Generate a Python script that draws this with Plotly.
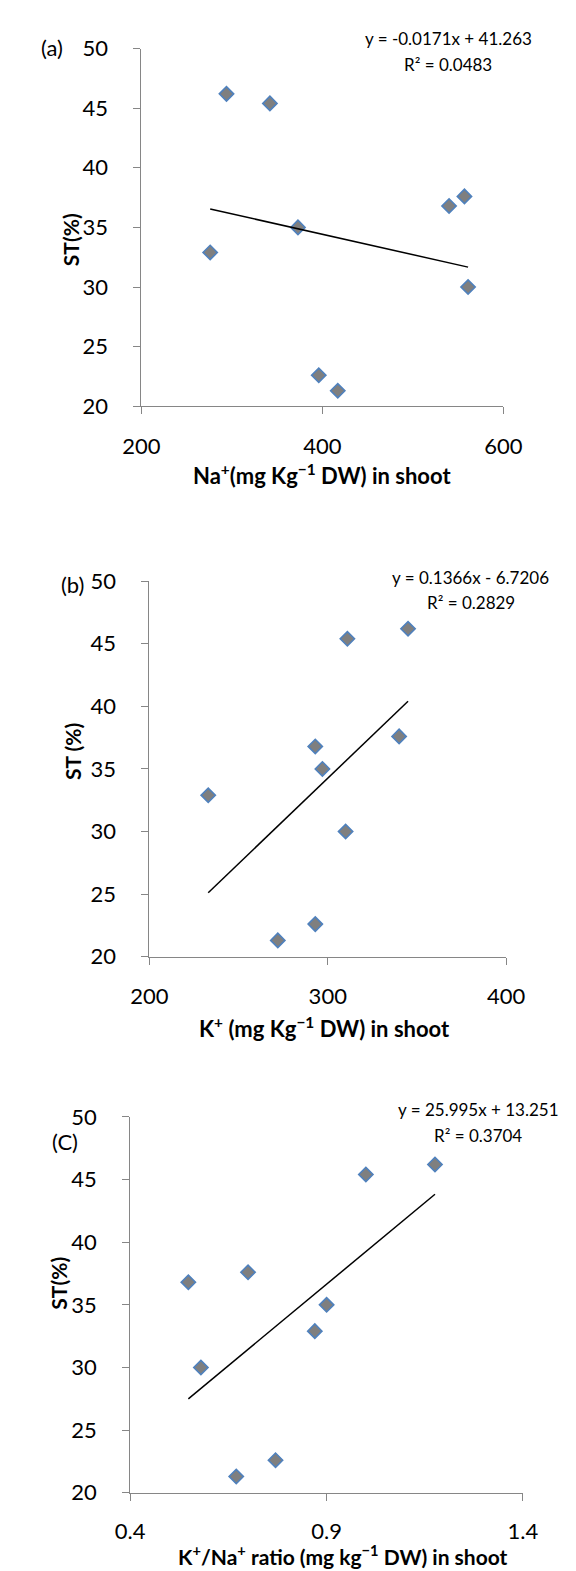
import plotly.graph_objects as go

# ---------------- data ----------------
st_values = [46.2, 45.4, 37.6, 36.8, 35.0, 32.9, 30.0, 22.6, 21.3]
na_shoot = [294, 342, 557, 540, 373, 276, 561, 396, 417]
k_shoot = [345, 311, 340, 293, 297, 233, 310, 293, 272]
k_na_ratio = [1.176, 1.00, 0.70, 0.548, 0.90, 0.87, 0.58, 0.77, 0.67]

trend_slope = [-0.0171, 0.1366, 25.995]
trend_intercept = [41.263, -6.7206, 13.251]
eq_text = ["y = -0.0171x + 41.263", "y = 0.1366x - 6.7206", "y = 25.995x + 13.251"]
r2_text = ["R² = 0.0483", "R² = 0.2829", "R² = 0.3704"]

x_ranges = [[200, 600], [200, 400], [0.4, 1.4]]
x_tickvals = [[200, 400, 600], [200, 300, 400], [0.4, 0.9, 1.4]]
x_ticktext = [["200", "400", "600"], ["200", "300", "400"], ["0.4", "0.9", "1.4"]]
y_range = [20, 50]
y_tickvals = [20, 25, 30, 35, 40, 45, 50]

x_titles = ["Na<sup>+</sup>(mg Kg<sup>−1</sup> DW) in shoot",
            "K<sup>+</sup> (mg Kg<sup>−1</sup> DW) in shoot",
            "K<sup>+</sup>/Na<sup>+</sup> ratio (mg kg<sup>−1</sup> DW) in shoot"]
y_titles = ["ST(%)", "ST (%)", "ST(%)"]
panel_labels = ["(a)", "(b)", "(C)"]

# ---------------- layout geometry (pixels) ----------------
W, H = 576, 1571
FONT = "Lato"
plot_px = [  # x0, x1, ytop, ybottom
    (122.5, 510, 27, 391),
    (131, 513, 569, 951),
    (110.5, 531, 1114, 1496.5),
]
xtick_standoff = [13, 13, 12]
eq_pos = [(451, 17, 43), (475, 565, 591), (483, 1107, 1133)]
xtitle_pos = [(316, 460, 22), (318, 1023, 22), (338, 1560, 21)]
ytitle_pos = [(46, 221), (48, 742), (34, 1283)]
label_pos = [(27, 26), (49, 572), (41, 1139)]

xs_all = [na_shoot, k_shoot, k_na_ratio]

fig = go.Figure()
annotations = []

def px2paper(x, y):
    return x / W, 1 - y / H

for i in range(3):
    xa = "x" if i == 0 else f"x{i+1}"
    ya = "y" if i == 0 else f"y{i+1}"
    xs = xs_all[i]
    fig.add_trace(go.Scatter(
        x=xs, y=st_values, mode="markers", xaxis=xa, yaxis=ya,
        marker=dict(symbol="diamond", size=11, color="#7f7f7f",
                    line=dict(color="#4f81bd", width=1.6)),
        cliponaxis=False, showlegend=False, hoverinfo="skip"))
    xmin, xmax = min(xs), max(xs)
    fig.add_trace(go.Scatter(
        x=[xmin, xmax],
        y=[trend_slope[i] * xmin + trend_intercept[i], trend_slope[i] * xmax + trend_intercept[i]],
        mode="lines", xaxis=xa, yaxis=ya,
        line=dict(color="black", width=1.5), showlegend=False, hoverinfo="skip"))

    x0, x1, yt, yb = plot_px[i]
    axis_common = dict(showline=True, linecolor="#868686", linewidth=1,
                       ticks="outside", ticklen=7, tickcolor="#868686", tickwidth=1,
                       showgrid=False, zeroline=False, fixedrange=True,
                       tickfont=dict(family=FONT, size=22, color="black"))
    xkey = "xaxis" if i == 0 else f"xaxis{i+1}"
    ykey = "yaxis" if i == 0 else f"yaxis{i+1}"
    fig.update_layout(**{
        xkey: dict(domain=[x0 / W, x1 / W], range=x_ranges[i], tickvals=x_tickvals[i],
                   ticktext=x_ticktext[i], anchor=ya, ticklabelstandoff=xtick_standoff[i],
                   **axis_common),
        ykey: dict(domain=[1 - yb / H, 1 - yt / H], range=y_range, tickvals=y_tickvals,
                   anchor=xa, ticklabelstandoff=21, **axis_common),
    })

    ex, ey1, ey2 = eq_pos[i]
    for txt, ey in ((eq_text[i], ey1), (r2_text[i], ey2)):
        px_, py_ = px2paper(ex, ey)
        annotations.append(dict(x=px_, y=py_, xref="paper", yref="paper", text=txt,
                                showarrow=False, xanchor="center", yanchor="middle",
                                font=dict(family=FONT, size=17, color="black")))
    tx, ty, tsize = xtitle_pos[i]
    tx, ty = px2paper(tx, ty)
    annotations.append(dict(x=tx, y=ty, xref="paper", yref="paper", text="<b>" + x_titles[i] + "</b>",
                            showarrow=False, xanchor="center", yanchor="middle",
                            font=dict(family=FONT, size=tsize, color="black")))
    tx, ty = px2paper(*ytitle_pos[i])
    annotations.append(dict(x=tx, y=ty, xref="paper", yref="paper", text="<b>" + y_titles[i] + "</b>",
                            showarrow=False, xanchor="center", yanchor="middle", textangle=-90,
                            font=dict(family=FONT, size=21, color="black")))
    tx, ty = px2paper(*label_pos[i])
    annotations.append(dict(x=tx, y=ty, xref="paper", yref="paper", text=panel_labels[i],
                            showarrow=False, xanchor="center", yanchor="middle",
                            font=dict(family=FONT, size=22, color="black")))

fig.update_layout(width=W, height=H, margin=dict(l=0, r=0, t=0, b=0),
                  paper_bgcolor="white", plot_bgcolor="white",
                  annotations=annotations, showlegend=False)

fig.write_html("out.html")
